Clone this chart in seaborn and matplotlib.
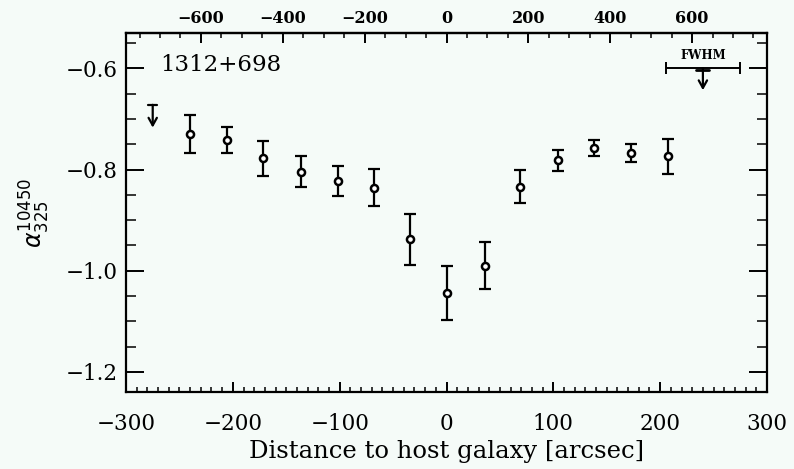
import numpy as np
import pandas as pd
import matplotlib
matplotlib.use("Agg")
import matplotlib.pyplot as plt
import seaborn as sns
from matplotlib.ticker import MultipleLocator, FixedLocator

# ---- data ----
distance = [-240, -205, -172, -136, -102, -68, -34, 0, 36, 69, 104, 138, 173, 207]
alpha = [-0.730, -0.742, -0.778, -0.804, -0.822, -0.836, -0.938, -1.044, -0.990,
         -0.834, -0.782, -0.758, -0.768, -0.774]
alpha_err = [0.038, 0.026, 0.034, 0.030, 0.030, 0.037, 0.050, 0.054, 0.047,
             0.033, 0.021, 0.016, 0.018, 0.034]
limit_distance = [-275]
limit_alpha = [-0.672]
fwhm_center = 240
fwhm_halfwidth = 35
fwhm_level = -0.600
top_ticks = [-600, -400, -200, 0, 200, 400, 600]
y_ticks = [-0.6, -0.8, -1.0, -1.2]
x_ticks = [-300, -200, -100, 0, 100, 200, 300]
label_text = "1312+698"
scale_top = 2.61

df = pd.DataFrame({"distance": distance, "alpha": alpha, "err": alpha_err})

sns.set_theme(style="ticks")
bg = "#f5fbf8"
plt.rcParams["font.family"] = ["DejaVu Serif"]
for key in ["text.color", "axes.labelcolor", "xtick.color", "ytick.color",
            "axes.edgecolor"]:
    plt.rcParams[key] = "black"

fig = plt.figure(figsize=(7.94, 4.69), dpi=100, facecolor=bg)
ax = fig.add_axes([0.1587, 0.164, 0.966 - 0.1587, 0.9296 - 0.164])
ax.set_facecolor(bg)

ax.errorbar(df["distance"], df["alpha"], yerr=df["err"], fmt="none",
            ecolor="black", elinewidth=1.6, capsize=4, capthick=1.6, zorder=2)
sns.scatterplot(data=df, x="distance", y="alpha", ax=ax, marker="o", s=26,
                facecolor="white", edgecolor="black", linewidth=1.8, zorder=3,
                legend=False)

# upper limit
for xl, yl in zip(limit_distance, limit_alpha):
    ax.plot([xl - 4, xl + 4], [yl, yl], color="black", lw=1.6)
    ax.annotate("", xy=(xl, yl - 0.045), xytext=(xl, yl),
                arrowprops=dict(arrowstyle="->,head_length=0.45,head_width=0.25",
                                color="black", lw=1.6, shrinkA=0, shrinkB=0))

# FWHM indicator
ax.errorbar([fwhm_center], [fwhm_level], xerr=[fwhm_halfwidth], fmt="none",
            ecolor="black", elinewidth=1.4, capsize=4, capthick=1.4)
ax.plot([fwhm_center - 6, fwhm_center + 6], [fwhm_level - 0.003, fwhm_level - 0.003],
        color="black", lw=2)
ax.annotate("", xy=(fwhm_center, fwhm_level - 0.043), xytext=(fwhm_center, fwhm_level),
            arrowprops=dict(arrowstyle="->,head_length=0.45,head_width=0.25",
                            color="black", lw=1.6, shrinkA=0, shrinkB=0))
ax.text(fwhm_center, fwhm_level + 0.012, "FWHM", ha="center", va="bottom",
        fontsize=8.5, fontweight="bold")

ax.text(0.053, 0.912, label_text, transform=ax.transAxes, fontsize=16.5,
        ha="left", va="center")

ax.set_xlim(-300, 300)
ax.set_ylim(-1.24, -0.53)
ax.xaxis.set_major_locator(FixedLocator(x_ticks))
ax.xaxis.set_minor_locator(MultipleLocator(10))
ax.yaxis.set_major_locator(FixedLocator(y_ticks))
ax.yaxis.set_minor_locator(MultipleLocator(0.05))
ax.set_xticklabels([f"\u2212{abs(v)}" if v < 0 else f"{v}" for v in x_ticks])
ax.set_yticklabels([f"\u2212{abs(v):.1f}" for v in y_ticks])

ax.tick_params(axis="x", which="major", direction="in", length=7, width=1.4,
               bottom=True, top=False, labelsize=15.5, pad=15)
ax.tick_params(axis="x", which="minor", direction="in", length=3.5, width=1.1,
               bottom=True, top=False)
ax.tick_params(axis="y", which="major", direction="in", length=13, width=1.4,
               left=True, right=True, labelsize=15.5, pad=6)
ax.tick_params(axis="y", which="minor", direction="in", length=7, width=1.1,
               left=True, right=True)
for sp in ax.spines.values():
    sp.set_linewidth(1.6)
    sp.set_color("black")
    sp.set_visible(True)

secax = ax.secondary_xaxis("top", functions=(lambda x: x * scale_top,
                                             lambda x: x / scale_top))
secax.xaxis.set_major_locator(FixedLocator(top_ticks))
secax.xaxis.set_minor_locator(MultipleLocator(50))
secax.set_xticklabels([f"\u2212{abs(v)}" if v < 0 else f"{v}" for v in top_ticks])
secax.tick_params(axis="x", which="major", direction="in", length=7, width=1.4,
                  labelsize=11.5, pad=4, colors="black")
secax.tick_params(axis="x", which="minor", direction="in", length=3.5, width=1.1)
for lab in secax.get_xticklabels():
    lab.set_fontweight("bold")
secax.spines["top"].set_linewidth(1.6)

ax.set_xlabel("Distance to host galaxy [arcsec]", fontsize=17.5, labelpad=4)
ax.set_ylabel(r"$\alpha_{325}^{10450}$", fontsize=17, labelpad=10)

fig.savefig("out.png", dpi=100, facecolor=bg)
